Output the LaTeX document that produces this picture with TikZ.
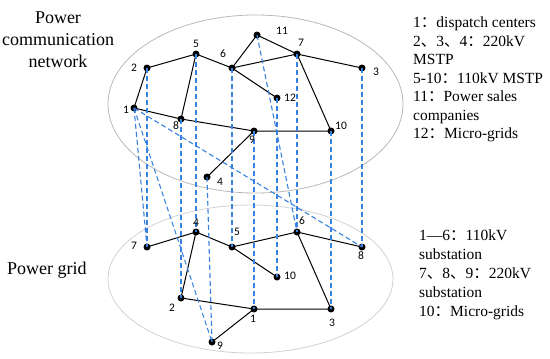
\documentclass[tikz,border=0pt]{standalone}
\usepackage{fontspec}
\setmainfont{Liberation Serif}
\newfontfamily\numfont{Carlito}
\newfontfamily\cjk{Noto Sans CJK SC}
\newcommand{\fc}{{\cjk ：}}
\newcommand{\dn}{{\cjk 、}}
\definecolor{linkblue}{RGB}{55,130,225}
\begin{document}
\begin{tikzpicture}[x=1pt,y=-1pt,
  dot/.style={circle,fill=black,inner sep=0pt,minimum size=7pt},
  lbl/.style={font=\numfont\fontsize{11.5}{12}\selectfont,inner sep=0pt},
  edge/.style={black,line width=1pt},
  link/.style={draw=linkblue,line width=1.1pt,dash pattern=on 5pt off 3pt},
  legend/.style={anchor=base west,inner sep=0pt,font=\fontsize{15.5}{18}\selectfont},
  title/.style={align=center,inner sep=0pt,font=\fontsize{18}{22}\selectfont}]
\useasboundingbox (0,0) rectangle (550,359);
% ellipses
\draw[gray!55,line width=0.8pt] (255.5,104) ellipse [x radius=147.5,y radius=89];
\draw[gray!35,line width=0.8pt] (250.5,279) ellipse [x radius=142.5,y radius=74];
% top nodes
\node[dot] (t1) at (134,108) {};
\node[dot] (t2) at (147,68) {};
\node[dot] (t5) at (196,54) {};
\node[dot] (t6) at (232,68) {};
\node[dot] (t11) at (257,35) {};
\node[dot] (t7) at (297,54) {};
\node[dot] (t3) at (362,68) {};
\node[dot] (t12) at (277,98) {};
\node[dot] (t8) at (181,119) {};
\node[dot] (t9) at (254,131) {};
\node[dot] (t10) at (331,131) {};
\node[dot] (t4) at (207,177) {};
% bottom nodes
\node[dot] (b7) at (147,247) {};
\node[dot] (b4) at (196,232) {};
\node[dot] (b5) at (232,247) {};
\node[dot] (b6) at (297,232) {};
\node[dot] (b8) at (362,247) {};
\node[dot] (b10) at (277,277) {};
\node[dot] (b2) at (181,298) {};
\node[dot] (b1) at (254,309) {};
\node[dot] (b3) at (331,309) {};
\node[dot] (b9) at (212,342) {};
% top edges
\draw[edge] (t1.center) -- (t2.center) -- (t5.center) -- (t6.center) -- (t7.center) -- (t3.center);
\draw[edge] (t5.center) -- (t8.center);
\draw[edge] (t6.center) -- (t11.center) -- (t7.center);
\draw[edge] (t6.center) -- (t12.center);
\draw[edge] (t7.center) -- (t10.center);
\draw[edge] (t1.center) -- (t8.center) -- (t9.center) -- (t10.center);
\draw[edge] (t9.center) -- (t4.center);
% bottom edges
\draw[edge] (b7.center) -- (b4.center) -- (b5.center) -- (b6.center) -- (b8.center);
\draw[edge] (b5.center) -- (b10.center);
\draw[edge] (b4.center) -- (b2.center) -- (b1.center) -- (b3.center) -- (b6.center);
\draw[edge] (b1.center) -- (b9.center);
% dashed links
\draw[link] (t1.center) -- (b7.center);
\draw[link] (t2.center) -- (b7.center);
\draw[link] (t1.center) -- (b9.center);
\draw[link] (t1.center) -- (b8.center);
\draw[link] (t8.center) -- (b2.center);
\draw[link] (t5.center) -- (b4.center);
\draw[link] (t4.center) -- (b9.center);
\draw[link] (t6.center) -- (b5.center);
\draw[link] (t9.center) -- (b1.center);
\draw[link] (t12.center) -- (b10.center);
\draw[link] (t11.center) -- (b6.center);
\draw[link] (t7.center) -- (b6.center);
\draw[link] (t10.center) -- (b3.center);
\draw[link] (t3.center) -- (b8.center);
% top labels
\node[lbl] (lt1) at (126,110) {1};
\node[lbl] (lt2) at (134,68) {2};
\node[lbl] (lt5) at (196,44) {5};
\node[lbl] (lt6) at (223,54) {6};
\node[lbl] (lt11) at (282,31) {11};
\node[lbl] (lt7) at (301,43) {7};
\node[lbl] (lt3) at (376,72) {3};
\node[lbl] (lt12) at (290,98) {12};
\node[lbl] (lt8) at (176,126) {8};
\node[lbl] (lt9) at (252,140) {9};
\node[lbl] (lt10) at (341,126) {10};
\node[lbl] (lt4) at (220,182) {4};
% bottom labels
\node[lbl] (lb7) at (134,246) {7};
\node[lbl] (lb4) at (196,223) {4};
\node[lbl] (lb5) at (237,232) {5};
\node[lbl] (lb6) at (302,221) {6};
\node[lbl] (lb8) at (361,256) {8};
\node[lbl] (lb10) at (290,276) {10};
\node[lbl] (lb2) at (172,308) {2};
\node[lbl] (lb1) at (253,319) {1};
\node[lbl] (lb3) at (332,323) {3};
\node[lbl] (lb9) at (220,346) {9};
% titles
\node[title] (ttop) at (58,40) {Power\\communication\\network};
\node[title,anchor=west] (tbot) at (7,270) {Power grid};
% legends
\node[legend] (g1) at (413,27.5) {1\fc dispatch centers};
\node[legend] (g2) at (413,46) {2\dn 3\dn 4\fc 220kV};
\node[legend] (g3) at (413,64.5) {MSTP};
\node[legend] (g4) at (413,83) {5-10\fc 110kV MSTP};
\node[legend] (g5) at (413,101.5) {11\fc Power sales};
\node[legend] (g6) at (413,120) {companies};
\node[legend] (g7) at (413,138.5) {12\fc Micro-grids};
\node[legend] (h1) at (419,240.5) {1—6\fc 110kV};
\node[legend] (h2) at (419,259.5) {substation};
\node[legend] (h3) at (419,278.5) {7\dn 8\dn 9\fc 220kV};
\node[legend] (h4) at (419,297.5) {substation};
\node[legend] (h5) at (419,316.5) {10\fc Micro-grids};
\end{tikzpicture}
\end{document}
